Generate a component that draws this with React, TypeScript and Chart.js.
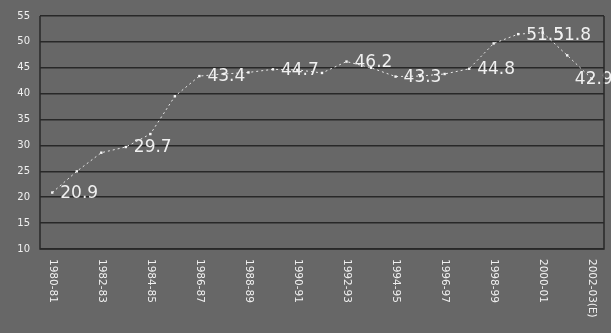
import React, { useEffect, useRef } from "react";
import { Chart, registerables } from "chart.js";

Chart.register(...registerables);

// Yearly periods; every other one carries an axis label
const categories = [
  "1980-81", "1981-82", "1982-83", "1983-84", "1984-85", "1985-86",
  "1986-87", "1987-88", "1988-89", "1989-90", "1990-91", "1991-92",
  "1992-93", "1993-94", "1994-95", "1995-96", "1996-97", "1997-98",
  "1998-99", "1999-2000", "2000-01", "2001-02", "2002-03(E)",
];

const values = [
  20.9, 25.0, 28.6, 29.7, 32.2, 39.5,
  43.4, 43.8, 44.1, 44.7, 44.6, 44.0,
  46.2, 45.0, 43.3, 43.4, 43.8, 44.8,
  49.7, 51.5, 51.8, 47.4, 42.9,
];

// Periods whose value is written next to the point
const labeledPoints = [0, 3, 6, 9, 12, 14, 17, 19, 20, 22];

const yMin = 10;
const yMax = 55;
const yStep = 5;

const BG = "#676767";
const GRID = "#282828";
const TEXT = "#f0f0f0";

const backgroundPlugin = {
  id: "bgFill",
  beforeDraw(chart: any) {
    const { ctx, width, height } = chart;
    ctx.save();
    ctx.fillStyle = BG;
    ctx.fillRect(0, 0, width, height);
    ctx.restore();
  },
};

const frameAndAxisLabels = {
  id: "frameAndAxisLabels",
  afterDraw(chart: any) {
    const { ctx, chartArea } = chart;
    const xScale = chart.scales.x;
    ctx.save();
    // plot frame
    ctx.strokeStyle = GRID;
    ctx.lineWidth = 1.5;
    ctx.beginPath();
    ctx.moveTo(chartArea.left, chartArea.top);
    ctx.lineTo(chartArea.left, chartArea.bottom);
    ctx.lineTo(chartArea.right, chartArea.bottom);
    ctx.lineTo(chartArea.right, chartArea.top);
    ctx.stroke();

    // category labels, turned to read top-to-bottom
    ctx.fillStyle = TEXT;
    ctx.font = "10.5px 'DejaVu Sans'";
    ctx.textAlign = "left";
    ctx.textBaseline = "middle";
    for (let i = 0; i < categories.length; i += 2) {
      const x = xScale.getPixelForValue(i);
      ctx.save();
      ctx.translate(x, chartArea.bottom + 10);
      ctx.rotate(Math.PI / 2);
      ctx.fillText(categories[i], 0, 0);
      ctx.restore();
    }
    ctx.restore();
  },
};

const valueLabels = {
  id: "valueLabels",
  afterDatasetsDraw(chart: any) {
    const { ctx, width } = chart;
    const meta = chart.getDatasetMeta(0);
    ctx.save();
    ctx.fillStyle = TEXT;
    ctx.font = "17px 'DejaVu Sans'";
    ctx.textBaseline = "middle";
    ctx.textAlign = "left";
    let prevRight = -Infinity;
    let prevLastCharW = 0;
    let prevY = 0;
    for (const i of labeledPoints) {
      const pt = meta.data[i];
      if (!pt) continue;
      const text = values[i].toFixed(1);
      const w = ctx.measureText(text).width;
      let left = pt.x + 8;
      let y = pt.y + 1;
      if (left + w > width) {
        // no room on the right: centre on the point
        left = pt.x + 2 - w / 2;
      } else if (left < prevRight) {
        // crowded neighbours share their touching digit
        left = prevRight - prevLastCharW;
        y = prevY;
      }
      ctx.fillText(text, left, y);
      prevRight = left + w;
      prevLastCharW = ctx.measureText(text.slice(-1)).width;
      prevY = y;
    }
    ctx.restore();
  },
};

export default function App() {
  const canvasRef = useRef<HTMLCanvasElement | null>(null);

  useEffect(() => {
    document.body.style.margin = "0";
    const canvas = canvasRef.current;
    if (!canvas) return;
    const chart = new Chart(canvas, {
      type: "line",
      data: {
        labels: categories,
        datasets: [
          {
            data: values,
            borderColor: "#e6e6e6",
            borderWidth: 1,
            borderDash: [2, 3],
            tension: 0,
            pointStyle: "rect",
            pointRadius: 1.7,
            pointBackgroundColor: "#f6f6f6",
            pointBorderColor: "#f6f6f6",
            pointBorderWidth: 0,
          },
        ],
      },
      options: {
        responsive: false,
        animation: false,
        devicePixelRatio: 1,
        layout: { padding: { top: 13, right: 7, left: 0, bottom: 0 } },
        plugins: {
          legend: { display: false },
          tooltip: { enabled: false },
        },
        scales: {
          x: {
            type: "category",
            offset: true,
            grid: { display: false },
            border: { display: false },
            ticks: { display: false },
            afterFit(scale: any) {
              scale.height = 84;
            },
          },
          y: {
            min: yMin,
            max: yMax,
            grid: { color: GRID, lineWidth: 1.6, drawTicks: false },
            border: { display: false },
            ticks: {
              stepSize: yStep,
              padding: 10,
              color: TEXT,
              font: { family: "'DejaVu Sans'", size: 10 },
            },
            afterFit(scale: any) {
              scale.width = 40;
            },
          },
        },
      },
      plugins: [backgroundPlugin, valueLabels, frameAndAxisLabels],
    });
    return () => chart.destroy();
  }, []);

  return (
    <div style={{ position: "fixed", left: 0, top: 0, width: 611, height: 333, background: BG }}>
      <canvas ref={canvasRef} width={611} height={333} />
    </div>
  );
}
